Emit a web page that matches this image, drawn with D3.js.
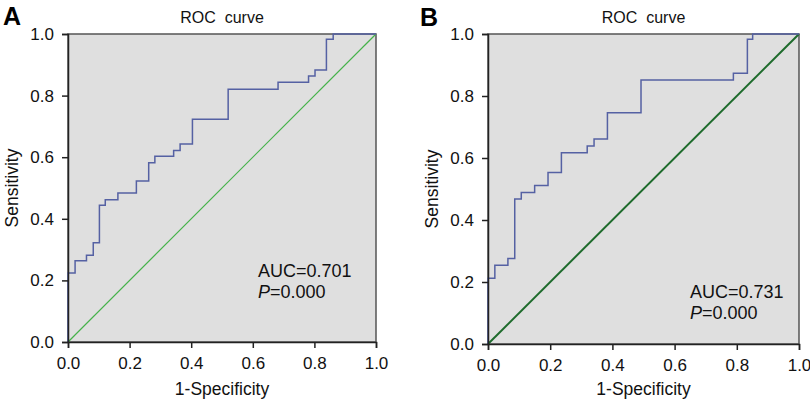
<!DOCTYPE html>
<html><head><meta charset="utf-8">
<script src="https://cdn.jsdelivr.net/npm/d3@7"></script>
<style>
html,body{margin:0;padding:0;background:#fff;}
svg{display:block;font-family:"Liberation Sans",Arial,sans-serif;}
</style></head>
<body><svg id="c" width="810" height="401"></svg>
<script>
// Panel A ROC step vertices (1-specificity, sensitivity)
const fprA = [0,0,0.023,0.06,0.082,0.102,0.121,0.162,0.222,0.262,0.282,0.343,0.364,0.404,0.52,0.682,0.781,0.802,0.839,0.861,1];
const tprA = [0,0.224,0.264,0.282,0.322,0.444,0.462,0.484,0.523,0.582,0.603,0.622,0.643,0.723,0.821,0.843,0.864,0.883,0.983,1,1];
// Panel B ROC step vertices
const fprB = [0,0,0.022,0.064,0.086,0.107,0.15,0.193,0.236,0.319,0.341,0.384,0.492,0.789,0.834,0.851,1];
const tprB = [0,0.212,0.254,0.276,0.468,0.489,0.511,0.553,0.617,0.639,0.661,0.746,0.852,0.873,0.983,1,1];
const ticks = [0,0.2,0.4,0.6,0.8,1.0];
const panelLabels = ["A","B"];
const aucText = ["AUC=0.701","AUC=0.731"];
const pText = ["=0.000","=0.000"];

const svg = d3.select("#c");
const panels = [
  {x0:68,x1:376,y0:34,y1:342,fpr:fprA,tpr:tprA,diag:"#45b24a",diagW:1.2,lab:[3,25],aucX:258,aucY:277},
  {x0:488,x1:799,y0:34,y1:344,fpr:fprB,tpr:tprB,diag:"#1e6b2c",diagW:2,lab:[420,26],aucX:690,aucY:298}
];

panels.forEach((p,i)=>{
  const x = d3.scaleLinear().domain([0,1]).range([p.x0,p.x1]);
  const y = d3.scaleLinear().domain([0,1]).range([p.y1,p.y0]);
  const g = svg.append("g");
  g.append("rect").attr("x",p.x0).attr("y",p.y0).attr("width",p.x1-p.x0).attr("height",p.y1-p.y0)
    .attr("fill","#dfdfdf").attr("stroke","#555").attr("stroke-width",1.5);
  g.append("line").attr("x1",x(0)).attr("y1",y(0)).attr("x2",x(1)).attr("y2",y(1))
    .attr("stroke",p.diag).attr("stroke-width",p.diagW);
  const pts = p.fpr.map((f,k)=>[f,p.tpr[k]]);
  const line = d3.line().x(d=>x(d[0])).y(d=>y(d[1])).curve(d3.curveStepAfter);
  g.append("path").attr("d",line(pts)).attr("fill","none").attr("stroke","#5561a3").attr("stroke-width",1.5);
  const fmt = d3.format(".1f");
  const xa = g.append("g").attr("transform",`translate(0,${p.y1})`)
    .call(d3.axisBottom(x).tickValues(ticks).tickFormat(fmt).tickSize(6).tickPadding(9));
  const ya = g.append("g").attr("transform",`translate(${p.x0},0)`)
    .call(d3.axisLeft(y).tickValues(ticks).tickFormat(fmt).tickSize(6).tickPadding(8));
  [xa,ya].forEach(a=>{
    a.select(".domain").attr("stroke","#222").attr("stroke-width",1.5);
    a.selectAll(".tick line").attr("stroke","#222").attr("stroke-width",1.5);
    a.selectAll(".tick text").attr("font-size",17).attr("fill","#111").attr("font-family","Liberation Sans, Arial, sans-serif");
  });
  const cx = (p.x0+p.x1)/2, cy=(p.y0+p.y1)/2;
  g.append("text").attr("x",cx).attr("y",p.y0-11).attr("text-anchor","middle")
    .attr("font-size",16).attr("fill","#111").style("white-space","pre").text("ROC  curve");
  g.append("text").attr("x",cx).attr("y",395).attr("text-anchor","middle")
    .attr("font-size",17.5).attr("fill","#111").text("1-Specificity");
  g.append("text").attr("transform",`translate(${p.x0-50},${cy}) rotate(-90)`).attr("text-anchor","middle")
    .attr("font-size",17.5).attr("fill","#111").text("Sensitivity");
  g.append("text").attr("x",p.lab[0]).attr("y",p.lab[1]).attr("font-size",25).attr("font-weight","bold")
    .attr("fill","#000").text(panelLabels[i]);
  g.append("text").attr("x",p.aucX).attr("y",p.aucY).attr("font-size",18).attr("fill","#111").text(aucText[i]);
  const t = g.append("text").attr("x",p.aucX).attr("y",p.aucY+21).attr("font-size",18).attr("fill","#111");
  t.append("tspan").attr("font-style","italic").text("P");
  t.append("tspan").text(pText[i]);
});
</script></body></html>
